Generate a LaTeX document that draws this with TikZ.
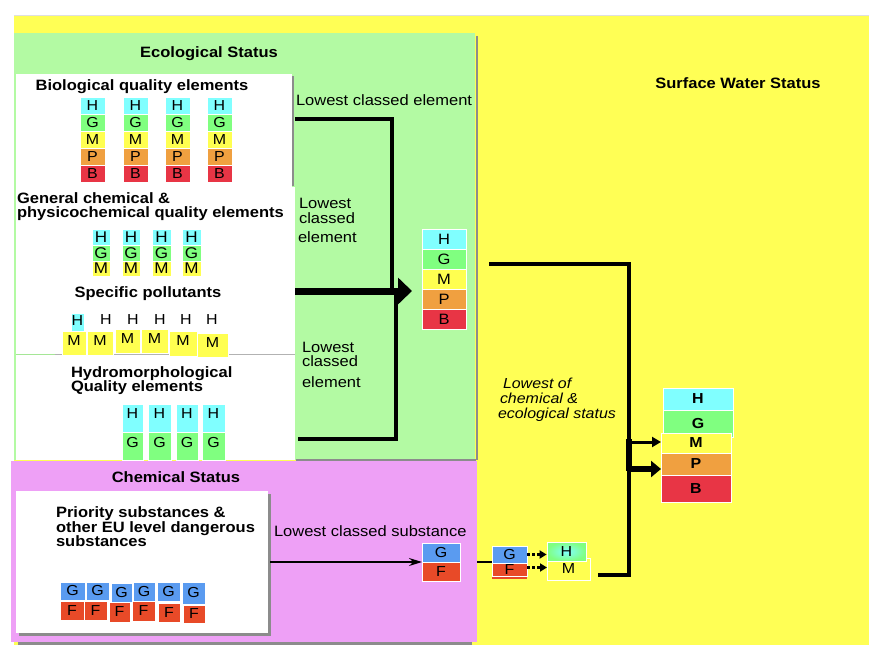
\documentclass[tikz,border=0pt]{standalone}
\usepackage{fontspec}
\setmainfont{Liberation Sans}[FakeStretch=1.1]
\usetikzlibrary{arrows.meta}
\definecolor{bgY}{HTML}{FFFF55}
\definecolor{bgG}{HTML}{B3FAA3}
\definecolor{bgM}{HTML}{EEA0F6}
\definecolor{cH}{HTML}{80FFFF}
\definecolor{cG}{HTML}{80FF80}
\definecolor{cM}{HTML}{FFFF50}
\definecolor{cP}{HTML}{F0A040}
\definecolor{cB}{HTML}{E83545}
\definecolor{cBlue}{HTML}{5A9BF0}
\definecolor{cF}{HTML}{E84A28}
\definecolor{shd}{HTML}{8C8C8C}
\newcommand\nc[8][]{\node[cell,fill=#7,minimum width={(#5-#3)*1pt},minimum height={(#6-#4)*1pt},#1] (#2) at ({(#3+#5)/2},{(#4+#6)/2}) {#8};}
\begin{document}
\begin{tikzpicture}[x=1pt,y=-1pt,
  cell/.style={draw=white, line width=0.8pt, inner sep=0pt, outer sep=0pt, font=\fontsize{14.5}{14.5}\selectfont},
  txt/.style={inner sep=0pt, outer sep=0pt, anchor=base west, font=\fontsize{15}{17}\selectfont},
  hd/.style={inner sep=0pt, outer sep=0pt, anchor=base, font=\fontsize{15}{17}\selectfont\bfseries},
  hdl/.style={inner sep=0pt, outer sep=0pt, anchor=base west, font=\fontsize{15}{17}\selectfont\bfseries},
  conn/.style={line width=4pt},
  bold cell/.style={font=\fontsize{14.5}{14.5}\selectfont\bfseries}]
\useasboundingbox (0,0) rectangle (886,658);
% backgrounds
\fill[bgY] (14,16) rectangle (869,645);
\draw[gray!25, line width=1pt] (14,16) -- (869,16);
\fill[bgG] (14,33) rectangle (475,460);
\draw[shd, line width=2pt] (476.5,36) -- (476.5,460);
\draw[shd, line width=2pt] (296,460) -- (476,460);
\fill[white] (16,74) rectangle (292,187);
\fill[white] (16,187) rectangle (295,460);
\fill[shd] (292,76) rectangle (294,186);
\draw[gray!60, line width=1pt] (55,354) -- (295,354);
\draw[bgG!80!black!40!bgG, line width=1pt] (16,354) -- (55,354);
\fill[bgM] (11,461) rectangle (477,642);
\fill[shd] (18,642) rectangle (472,645);
\fill[shd] (19,494) rectangle (271,636);
\fill[white] (16,491) rectangle (268,633);

% headings
\node[hd] (ecoT) at (209,58) {Ecological Status};
\node[hd] (bioT) at (142,91) {Biological quality elements};
\node[hdl] (gcT1) at (17,203) {General chemical \&};
\node[hdl] (gcT2) at (17,217) {physicochemical quality elements};
\node[hd] (spT) at (148,297) {Specific pollutants};
\node[hdl] (hyT1) at (71,377) {Hydromorphological};
\node[hdl] (hyT2) at (71,391) {Quality elements};
\node[hd] (chT) at (176,482) {Chemical Status};
\node[hdl] (prT1) at (56,517) {Priority substances \&};
\node[hdl] (prT2) at (56,532) {other EU level dangerous};
\node[hdl] (prT3) at (56,546) {substances};
\node[hd] (swT) at (738,89) {Surface Water Status};

% biological cells
\foreach \c/\xa/\xb in {1/80/105, 2/123/148, 3/165/190, 4/207/232}{
  \nc{bioH\c}{\xa}{97}{\xb}{114}{cH}{H}
  \nc{bioG\c}{\xa}{114}{\xb}{131}{cG}{G}
  \nc{bioM\c}{\xa}{131}{\xb}{148}{cM}{M}
  \nc{bioP\c}{\xa}{148}{\xb}{165}{cP}{P}
  \nc{bioB\c}{\xa}{165}{\xb}{182}{cB}{B}
}
% general chemical cells
\foreach \c/\xa/\xb in {1/92/110, 2/122/140, 3/152/171, 4/182/201}{
  \nc[font=\fontsize{15.5}{15.5}\selectfont]{gcH\c}{\xa}{229}{\xb}{245}{cH}{H}
  \nc[font=\fontsize{15.5}{15.5}\selectfont]{gcG\c}{\xa}{245}{\xb}{261}{cG}{G}
  \nc[font=\fontsize{15.5}{15.5}\selectfont]{gcM\c}{\xa}{261}{\xb}{276}{cM}{M}
}
% specific pollutants
\nc[text depth=6pt]{spH1}{71}{313}{84}{334}{cH}{H}
\node[inner sep=0pt, font=\fontsize{14.5}{14.5}\selectfont] (spH2) at (106,320) {H};
\node[inner sep=0pt, font=\fontsize{14.5}{14.5}\selectfont] (spH3) at (133,320) {H};
\node[inner sep=0pt, font=\fontsize{14.5}{14.5}\selectfont] (spH4) at (160,320) {H};
\node[inner sep=0pt, font=\fontsize{14.5}{14.5}\selectfont] (spH5) at (186,320) {H};
\node[inner sep=0pt, font=\fontsize{14.5}{14.5}\selectfont] (spH6) at (212,320) {H};
\nc[text depth=5pt]{spM1}{62}{331}{86}{355}{cM}{M}
\nc[text depth=5pt]{spM2}{87}{331}{113}{355}{cM}{M}
\nc[text depth=5pt]{spM3}{115}{329}{140}{353}{cM}{M}
\nc[text depth=5pt]{spM4}{141}{329}{168}{353}{cM}{M}
\nc[text depth=5pt]{spM5}{169}{331}{197}{356}{cM}{M}
\nc[text depth=5pt]{spM6}{197}{333}{228}{357}{cM}{M}
% hydromorphological cells
\foreach \c/\xa/\xb in {1/122/143, 2/148/171, 3/176/198, 4/202/225}{
  \nc[text depth=8pt]{hyH\c}{\xa}{404}{\xb}{432}{cH}{H}
  \nc[text depth=8pt]{hyG\c}{\xa}{432}{\xb}{460}{cG}{G}
}
% priority substances cells
\nc{prG1}{60}{582}{85}{600}{cBlue}{G}
\nc{prG2}{86}{582}{109}{600}{cBlue}{G}
\nc{prG3}{111}{583}{132}{602}{cBlue}{G}
\nc{prG4}{133}{582}{155}{601}{cBlue}{G}
\nc{prG5}{157}{582}{180}{601}{cBlue}{G}
\nc{prG6}{182}{582}{205}{604}{cBlue}{G}
\nc{prF1}{60}{601}{84}{620}{cF}{F}
\nc{prF2}{84}{601}{107}{620}{cF}{F}
\nc{prF3}{109}{602}{130}{622}{cF}{F}
\nc{prF4}{132}{601}{155}{621}{cF}{F}
\nc{prF5}{158}{603}{180}{622}{cF}{F}
\nc{prF6}{183}{605}{205}{623}{cF}{F}

% ecological result
\nc[font=\fontsize{15}{15}\selectfont]{ecoH}{422}{229}{466}{249}{cH}{H}
\nc[font=\fontsize{15}{15}\selectfont]{ecoG}{422}{249}{466}{269}{cG}{G}
\nc[font=\fontsize{15}{15}\selectfont]{ecoM}{422}{269}{466}{289}{cM}{M}
\nc[font=\fontsize{15}{15}\selectfont]{ecoP}{422}{289}{466}{309}{cP}{P}
\nc[font=\fontsize{15}{15}\selectfont]{ecoB}{422}{309}{466}{329}{cB}{B}

% chemical result
\nc{chG}{422}{543}{460}{562}{cBlue}{G}
\nc{chF}{422}{562}{460}{581}{cF}{F}
\nc{ch2G}{492}{546}{527}{563}{cBlue}{G}
\nc{ch2F}{492}{563}{527}{576}{cF}{F}
\fill[cF] (492,576.5) rectangle (527,579);
\nc{smM}{547}{558}{590}{580}{cM}{M}
\node[draw=white, line width=0.8pt, inner sep=0pt, minimum width=39pt, minimum height=19pt,
  inner color=cH, outer color=cG, font=\fontsize{14.5}{14.5}\selectfont] (smH) at (566.5,551.5) {H};

% final result
\nc[bold cell]{finH}{663}{388}{733}{410}{cH}{H}
\nc[bold cell]{finG}{663}{410}{733}{437}{cG}{G}
\nc[bold cell]{finM}{661}{433}{731}{453}{cM}{M}
\nc[bold cell]{finP}{661}{453}{731}{475}{cP}{P}
\nc[bold cell]{finB}{661}{475}{731}{502}{cB}{B}

% connector labels
\node[txt] (lab1) at (296,106) {Lowest classed element};
\node[txt] (lab2a) at (299,208) {Lowest};
\node[txt] (lab2b) at (299,223) {classed};
\node[txt] (lab2c) at (298,242) {element};
\node[txt] (lab3a) at (302,352) {Lowest};
\node[txt] (lab3b) at (302,366) {classed};
\node[txt] (lab3c) at (302,387) {element};
\node[txt] (lab4) at (274,536) {Lowest classed substance};
\node[txt, font=\fontsize{14.5}{16}\selectfont\itshape] (lab5a) at (503,388) {Lowest of};
\node[txt, font=\fontsize{14.5}{16}\selectfont\itshape] (lab5b) at (500,403) {chemical \&};
\node[txt, font=\fontsize{14.5}{16}\selectfont\itshape] (lab5c) at (498,418) {ecological status};

% connectors
\coordinate (bioOut) at (295,119);
\coordinate (bioJoin) at (392,291);
\coordinate (gcOut) at (295,291);
\coordinate (ecoIn) at (412,291);
\coordinate (hyOut) at (298,439);
\coordinate (hyJoin) at (396,293);
\draw[conn] (bioOut) -| (bioJoin);
\draw[conn] (hyOut) -| (hyJoin);
\draw[line width=7pt, -{Triangle[length=14pt,width=26pt]}] (gcOut) -- (ecoIn);

\coordinate (ecoOut) at (489,264);
\coordinate (busBot) at (629,575);
\coordinate (smOut) at (598,575);
\draw[conn] (ecoOut) -| (busBot) -- (smOut);
\coordinate (busA) at (629,442);
\coordinate (busB) at (629,469);
\draw[line width=6pt] (629,439) -- (629,471);
\draw[line width=3pt, -{Triangle[length=9pt,width=10pt]}] (busA) -- (busA -| finM.west);
\draw[line width=6pt, -{Triangle[length=10pt,width=16pt]}] (busB) -- (busB -| finP.west);

\coordinate (prOut) at (270,562);
\draw[line width=1.5pt, -{Stealth[length=13pt,width=8pt]}] (prOut) -- (prOut -| chG.west);
\coordinate (chOut) at (477,562);
\draw[line width=2.5pt] (chOut) -- (chOut -| ch2G.west);
\draw[line width=2.5pt, dash pattern=on 2.5pt off 2.5pt, -{Triangle[length=7pt,width=8pt]}] (ch2G.east) -- (ch2G.east -| smH.west);
\draw[line width=2.5pt, dash pattern=on 2.5pt off 2.5pt, -{Triangle[length=7pt,width=8pt]}] ([yshift=2pt]ch2F.east) -- ([yshift=2pt]ch2F.east -| smM.west);
\end{tikzpicture}
\end{document}
